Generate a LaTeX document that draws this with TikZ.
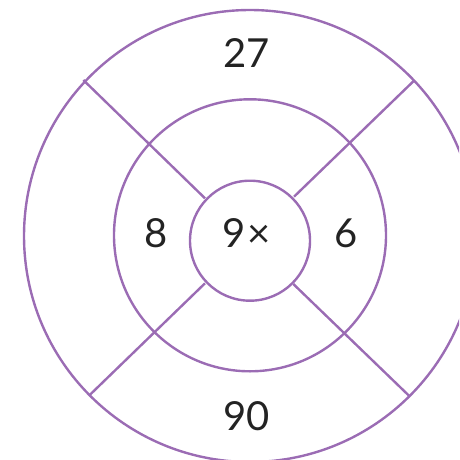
\documentclass[tikz,border=0pt]{standalone}
\usepackage{fontspec}
\setmainfont{Lato}
\definecolor{ringcol}{RGB}{155,108,180}
\definecolor{txtcol}{RGB}{35,35,35}
\tikzset{
  ring/.style={draw=ringcol, line width=2.4pt},
  spoke/.style={draw=ringcol, line width=2.4pt},
  num/.style={anchor=base, text=txtcol, font=\fontsize{40}{40}\selectfont, inner sep=0pt}
}
\begin{document}
\begin{tikzpicture}[x=1pt,y=-1pt]
\useasboundingbox (0,0) rectangle (459,460);
\clip (0,0) rectangle (459,460);
\coordinate (co) at (250,236);
\coordinate (cm) at (250,235.3);
\coordinate (ci) at (250,240.7);
\draw[ring] (co) circle[radius=226];
\draw[ring] (cm) circle[radius=136];
\draw[ring] (ci) circle[radius=60];
\coordinate (ulo) at (83.3,80);
\coordinate (uli) at (205,198.3);
\coordinate (uro) at (414,80.7);
\coordinate (uri) at (294,196.7);
\coordinate (llo) at (90,394.7);
\coordinate (lli) at (205,283.3);
\coordinate (lro) at (409,395.7);
\coordinate (lri) at (293.3,284);
\draw[spoke] (ulo) -- (uli);
\draw[spoke] (uro) -- (uri);
\draw[spoke] (llo) -- (lli);
\draw[spoke] (lro) -- (lri);
\node[num] (top) at (246.7,67.3) {27};
\node[num] (bot) at (246.7,430.3) {90};
\node[num] (left) at (156.3,247.5) {8};
\node[num] (mid) at (246.5,247.5) {9\kern0.05em×};
\node[num] (right) at (346.5,247.5) {6};
\end{tikzpicture}
\end{document}
